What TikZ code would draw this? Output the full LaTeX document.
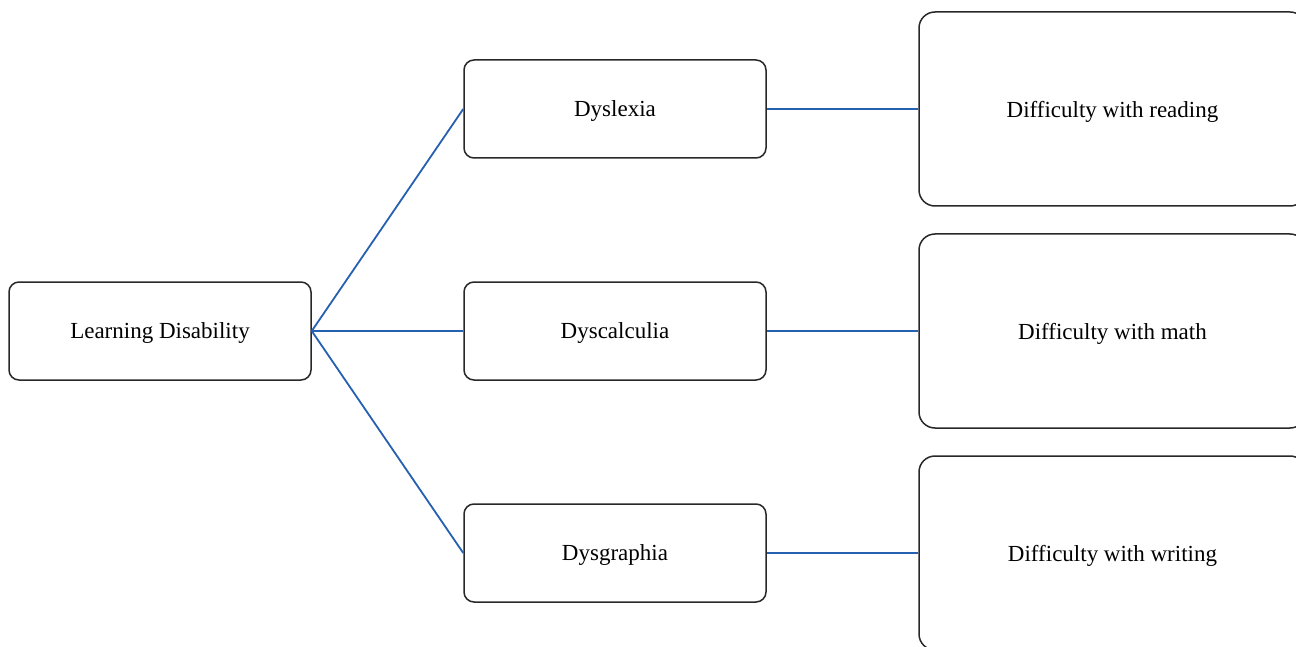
\documentclass[tikz,border=0pt]{standalone}
\usepackage{fontspec}
\setmainfont{Liberation Serif}
\definecolor{linkblue}{RGB}{38,96,176}
\definecolor{edge}{RGB}{40,40,40}
\tikzset{
  box/.style={draw=edge, line width=1.5pt, rounded corners=10pt, fill=white,
    inner sep=0pt, minimum width=302pt, minimum height=98pt, text depth=0pt,
    font=\fontsize{23}{27}\selectfont},
  bigbox/.style={box, rounded corners=16pt, minimum width=387pt, minimum height=194pt},
  link/.style={draw=linkblue, line width=1.8pt}
}
\begin{document}
\begin{tikzpicture}[x=1pt, y=-1pt]
  \path[use as bounding box, clip] (0,0) rectangle (1296,647);
  \fill[white] (0,0) rectangle (1296,647);

  % root
  \node[box] (ld) at (160,331) {Learning Disability};

  % types
  \node[box] (dlx) at (615,109) {Dyslexia};
  \node[box] (dcl) at (615,331) {Dyscalculia};
  \node[box] (dgr) at (615,553) {Dysgraphia};

  % descriptions
  \node[bigbox] (rd) at (1112.5,109) {Difficulty with reading};
  \node[bigbox] (mt) at (1112.5,331) {Difficulty with math};
  \node[bigbox] (wr) at (1112.5,553) {Difficulty with writing};

  % connectors
  \draw[link] (ld.east) -- (dlx.west);
  \draw[link] (ld.east) -- (dcl.west);
  \draw[link] (ld.east) -- (dgr.west);
  \draw[link] (dlx.east) -- (rd.west);
  \draw[link] (dcl.east) -- (mt.west);
  \draw[link] (dgr.east) -- (wr.west);
\end{tikzpicture}
\end{document}
